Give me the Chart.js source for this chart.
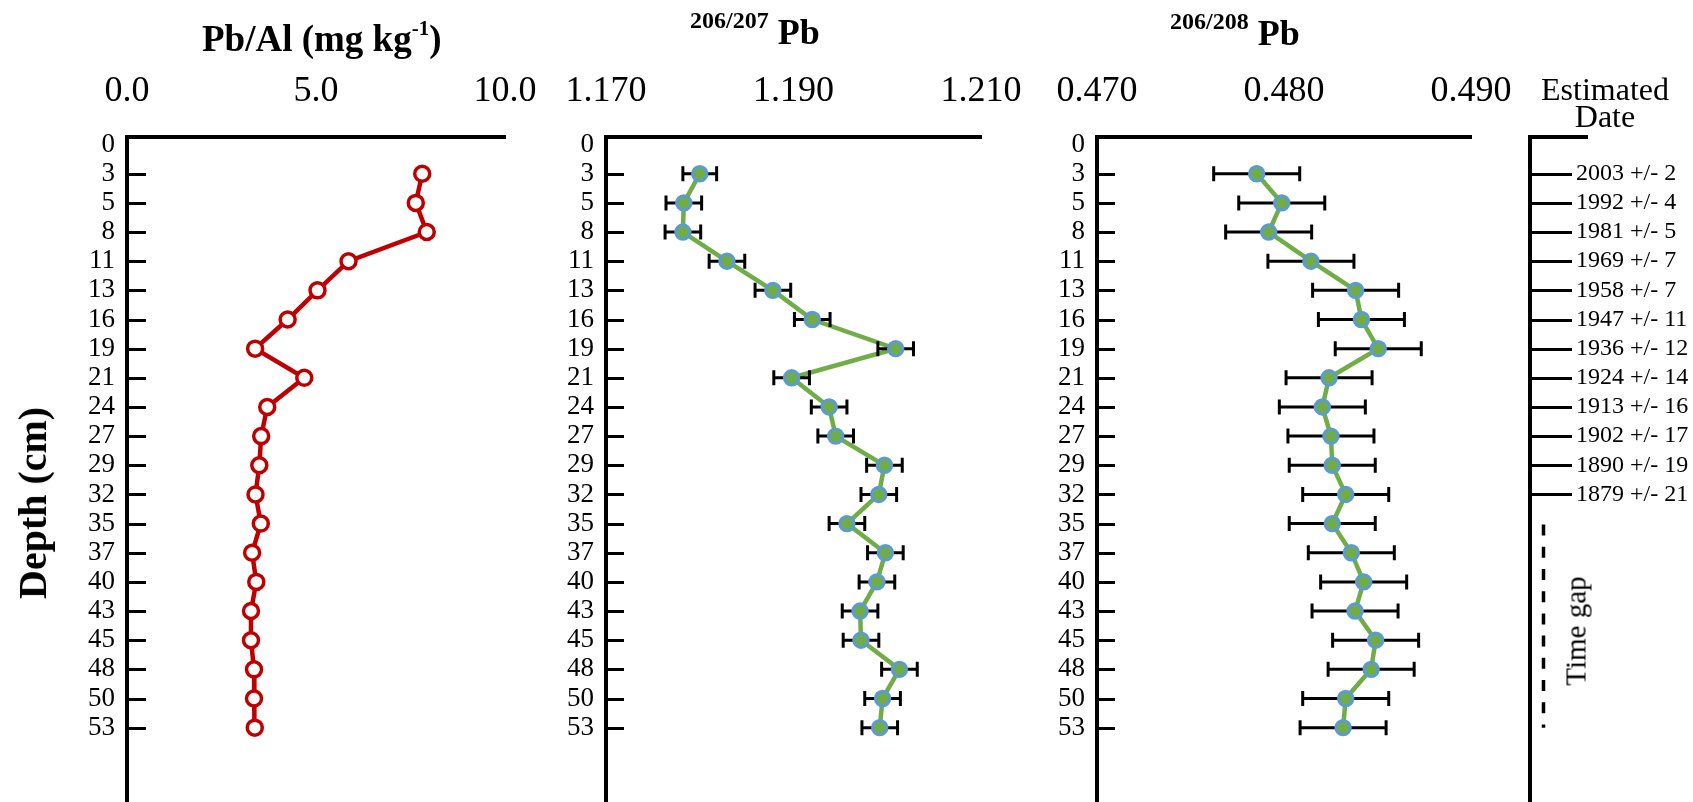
<!DOCTYPE html>
<html><head><meta charset="utf-8">
<script src="https://cdn.jsdelivr.net/npm/chart.js@4.4.0/dist/chart.umd.min.js"></script>
<style>
html,body{margin:0;padding:0;background:#fff;}
#wrap{position:relative;width:1693px;height:802px;overflow:hidden;background:#fff;font-family:"Liberation Serif","Times New Roman",serif;color:#000;}
canvas{position:absolute;left:0;top:0;}
.t{position:absolute;white-space:nowrap;color:#000;}
.b{font-weight:bold;}
</style></head><body>
<div id="wrap">
<canvas id="c1" width="1693" height="802"></canvas>
<canvas id="c2" width="1693" height="802"></canvas>
<canvas id="c3" width="1693" height="802"></canvas>
<canvas id="c4" width="1693" height="802"></canvas>
<div class="t b" style="left:202px;top:20px;font-size:37px;line-height:37px;">Pb/Al (mg kg<span style="font-size:21px;position:relative;top:-16px;">-1</span>)</div>
<div class="t b" style="left:690px;top:14px;font-size:36px;line-height:36px;"><span style="font-size:24px;position:relative;top:-16px;">206/207</span> Pb</div>
<div class="t b" style="left:1170px;top:15px;font-size:36px;line-height:36px;"><span style="font-size:24px;position:relative;top:-16px;">206/208</span> Pb</div>
<div class="t" style="left:1505px;top:76px;width:200px;text-align:center;font-size:32px;line-height:26.7px;">Estimated<br>Date</div>
<div class="t b" style="left:33px;top:503px;font-size:40px;line-height:40px;transform:translate(-50%,-50%) rotate(-90deg);">Depth (cm)</div>
<div class="t" style="left:1576px;top:631px;font-size:29px;line-height:29px;transform:translate(-50%,-50%) rotate(-90deg);">Time gap</div>
</div>
<script>
// ---------- data ----------
const depthLabels = ['0','3','5','8','11','13','16','19','21','24','27','29','32','35','37','40','43','45','48','50','53'];
const sampleDepths = ['3','5','8','11','13','16','19','21','24','27','29','32','35','37','40','43','45','48','50','53'];
const pbAl = [7.81,7.64,7.93,5.86,5.04,4.25,3.39,4.69,3.71,3.55,3.50,3.40,3.54,3.31,3.42,3.28,3.28,3.36,3.36,3.38];
const pb206_207 = [1.1800,1.1783,1.1782,1.1829,1.1878,1.1920,1.2009,1.1898,1.1938,1.1945,1.1997,1.1991,1.1957,1.1998,1.1989,1.1971,1.1972,1.2013,1.1995,1.1992];
const pb206_207Err = [0.0018,0.0019,0.0019,0.0019,0.0019,0.0019,0.0019,0.0019,0.0019,0.0019,0.0019,0.0019,0.0019,0.0019,0.0019,0.0019,0.0019,0.0019,0.0019,0.0019];
const pb206_208 = [0.47854,0.47988,0.47918,0.48144,0.48383,0.48414,0.48504,0.48241,0.48205,0.48251,0.48258,0.48330,0.48258,0.48360,0.48426,0.48380,0.48490,0.48466,0.48330,0.48316];
const pb206_208Err = [0.0023,0.0023,0.0023,0.0023,0.0023,0.0023,0.0023,0.0023,0.0023,0.0023,0.0023,0.0023,0.0023,0.0023,0.0023,0.0023,0.0023,0.0023,0.0023,0.0023];
const dateDepths = ['3','5','8','11','13','16','19','21','24','27','29','32'];
const dateLabels = ['2003 +/- 2','1992 +/- 4','1981 +/- 5','1969 +/- 7','1958 +/- 7','1947 +/- 11','1936 +/- 12','1924 +/- 14','1913 +/- 16','1902 +/- 17','1890 +/- 19','1879 +/- 21'];
const timeGapDepths = ['35','53'];
const xTicks1 = [0, 5, 10];
const xTicks2 = [1.170, 1.190, 1.210];
const xTicks3 = [0.470, 0.480, 0.490];

// ---------- helpers ----------
const FONT = '"Liberation Serif","Times New Roman",serif';
const rowOf = d => depthLabels.indexOf(d);
const Y_MIN = -0.26, Y_MAX = 22.55;

function innerTicks(rows, len){
  return {id:'innerTicks', afterDraw(chart){
    const {ctx, chartArea} = chart, ys = chart.scales.y;
    ctx.save(); ctx.strokeStyle = '#000'; ctx.lineWidth = 3;
    rows.forEach(r => { const y = Math.round(ys.getPixelForValue(r)) + 0.5;
      ctx.beginPath(); ctx.moveTo(chartArea.left, y); ctx.lineTo(chartArea.left + len, y); ctx.stroke(); });
    ctx.restore();
  }};
}
function errBars(values, errs){
  return {id:'errBars', afterDatasetDraw(chart, args){
    if (!chart.data.datasets[args.index].isLine) return;
    const {ctx} = chart, xs = chart.scales.x, ys = chart.scales.y;
    ctx.save(); ctx.strokeStyle = '#000'; ctx.lineWidth = 3;
    values.forEach((v, i) => {
      const y = ys.getPixelForValue(rowOf(sampleDepths[i]));
      const x1 = xs.getPixelForValue(v - errs[i]), x2 = xs.getPixelForValue(v + errs[i]);
      ctx.beginPath();
      ctx.moveTo(x1, y); ctx.lineTo(x2, y);
      ctx.moveTo(x1, y - 7.5); ctx.lineTo(x1, y + 7.5);
      ctx.moveTo(x2, y - 7.5); ctx.lineTo(x2, y + 7.5);
      ctx.stroke();
    });
    ctx.restore();
  }};
}
function yScale(leftEdge, labelFn, tickOpts){
  return {
    type:'linear', reverse:true, min:Y_MIN, max:Y_MAX,
    afterBuildTicks: s => { s.ticks = depthLabels.map((_, i) => ({value:i})); },
    afterFit: s => { s.width = leftEdge; s.paddingTop = 0; s.paddingBottom = 0; },
    grid:{display:false, drawTicks:false},
    border:{display:true, color:'#000', width:4},
    ticks: tickOpts || {autoSkip:false, padding:12, color:'#000', font:{family:FONT, size:27}, callback: v => labelFn(v)}
  };
}
function xScale(min, max, ticks, dec, show){
  return {
    type:'linear', position:'top', min, max,
    afterBuildTicks: s => { s.ticks = ticks.map(v => ({value:v})); },
    afterFit: s => { s.height = 137; s.paddingLeft = 0; s.paddingRight = 0; },
    grid:{display:false, drawTicks:false},
    border:{display:true, color:'#000', width:4},
    ticks:{display:show, autoSkip:false, maxRotation:0, padding:24, color:'#000', font:{family:FONT, size:36}, callback: v => v.toFixed(dec)}
  };
}
function panel(id, left, right, xs, datasets, plugins){
  return new Chart(document.getElementById(id), {
    type:'scatter',
    data:{datasets},
    options:{
      responsive:false, animation:false, events:[],
      layout:{autoPadding:false, padding:{left:0, right:1693 - right, top:0, bottom:0}},
      plugins:{legend:{display:false}, tooltip:{enabled:false}, title:{display:false}},
      scales:{x:xs, y:yScale(left, v => depthLabels[v] || '')}
    },
    plugins
  });
}
const sampleRows = sampleDepths.map(rowOf);
const tickRows = sampleRows;

// Panel 1: Pb/Al
panel('c1', 127, 505, xScale(0, 10, xTicks1, 1, true), [{
  data: pbAl.map((v, i) => ({x:v, y:sampleRows[i]})),
  showLine:true, borderColor:'#C00000', borderWidth:4.5,
  pointRadius:7.5, pointBorderWidth:3.5, pointBackgroundColor:'#FFFFFF', pointBorderColor:'#C00000', order:1
}], [innerTicks(tickRows, 19)]);

// Panel 2: 206/207 Pb
panel('c2', 606, 981, xScale(1.170, 1.210, xTicks2, 3, true), [
  {data: pb206_207.map((v, i) => ({x:v, y:sampleRows[i]})), showLine:false,
   pointRadius:7.2, pointBorderWidth:3, pointBackgroundColor:'#70AD47', pointBorderColor:'#5B9BD5', order:1},
  {isLine:true, data: pb206_207.map((v, i) => ({x:v, y:sampleRows[i]})), showLine:true,
   borderColor:'#70AD47', borderWidth:4.5, pointRadius:0, order:2}
], [innerTicks(tickRows, 18), errBars(pb206_207, pb206_207Err)]);

// Panel 3: 206/208 Pb
panel('c3', 1097, 1471, xScale(0.470, 0.490, xTicks3, 3, true), [
  {data: pb206_208.map((v, i) => ({x:v, y:sampleRows[i]})), showLine:false,
   pointRadius:7.2, pointBorderWidth:3, pointBackgroundColor:'#70AD47', pointBorderColor:'#5B9BD5', order:1},
  {isLine:true, data: pb206_208.map((v, i) => ({x:v, y:sampleRows[i]})), showLine:true,
   borderColor:'#70AD47', borderWidth:4.5, pointRadius:0, order:2}
], [innerTicks(tickRows, 18), errBars(pb206_208, pb206_208Err)]);

// Date axis
const dateRows = dateDepths.map(rowOf);
const dateLabelFor = v => { const k = dateRows.indexOf(v); return k >= 0 ? dateLabels[k] : ''; };
const timeGapPlugin = {id:'timeGap', afterDraw(chart){
  const {ctx, chartArea} = chart, ys = chart.scales.y;
  const y1 = ys.getPixelForValue(rowOf(timeGapDepths[0])) + 1;
  const y2 = ys.getPixelForValue(rowOf(timeGapDepths[1]));
  ctx.save(); ctx.strokeStyle = '#000'; ctx.lineWidth = 3.5; ctx.setLineDash([11, 11.2]);
  ctx.beginPath(); ctx.moveTo(chartArea.left + 13.5, y1); ctx.lineTo(chartArea.left + 13.5, y2); ctx.stroke();
  ctx.restore();
}};
new Chart(document.getElementById('c4'), {
  type:'scatter',
  data:{datasets:[{data:[]}]},
  options:{
    responsive:false, animation:false, events:[],
    layout:{autoPadding:false, padding:{left:0, right:1693 - 1587, top:0, bottom:0}},
    plugins:{legend:{display:false}, tooltip:{enabled:false}},
    scales:{
      x: xScale(0, 1, [], 0, false),
      y: yScale(1530, dateLabelFor,
        {autoSkip:false, mirror:true, padding:46, color:'#000', font:{family:FONT, size:24}, callback: v => dateLabelFor(v)})
    }
  },
  plugins:[innerTicks(dateRows, 42), timeGapPlugin]
});
</script>
</body></html>
